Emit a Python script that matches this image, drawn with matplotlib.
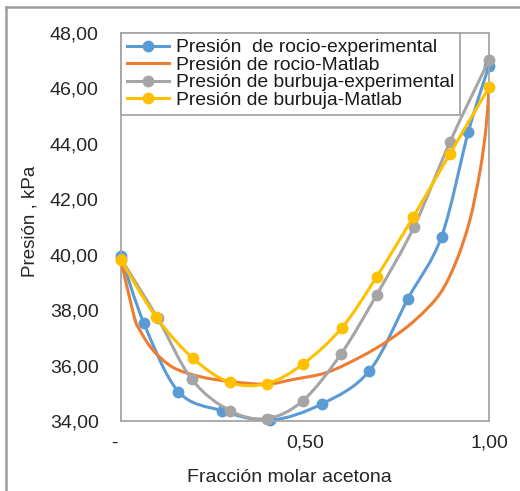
import numpy as np
import matplotlib
matplotlib.use("Agg")
import matplotlib.pyplot as plt
from matplotlib.path import Path
from matplotlib.patches import PathPatch
from matplotlib.lines import Line2D

plt.rcParams['font.family'] = ['Liberation Sans', 'DejaVu Sans']

# Presión de rocío experimental (composición del vapor)
rocio_exp_x = [0.0, 0.0625, 0.156, 0.274, 0.405, 0.545, 0.675, 0.780, 0.871, 0.944, 1.0]
rocio_exp_p = [39.95, 37.52, 35.06, 34.37, 34.03, 34.61, 35.81, 38.42, 40.65, 44.44, 46.82]

# Presión de rocío calculada (Matlab)
rocio_mat_x = [0.0, 0.035, 0.052, 0.088, 0.142, 0.215, 0.300, 0.396, 0.468, 0.559,
               0.649, 0.726, 0.800, 0.867, 0.912, 0.948, 0.976, 0.992, 1.0]
rocio_mat_p = [39.80, 37.80, 37.26, 36.54, 35.93, 35.60, 35.42, 35.33, 35.50, 35.75,
               36.30, 36.90, 37.65, 38.60, 39.80, 41.25, 43.05, 44.60, 46.00]

# Presión de burbuja experimental
burbuja_exp_x = [0.0, 0.10, 0.192, 0.296, 0.396, 0.494, 0.598, 0.695, 0.796, 0.894, 1.0]
burbuja_exp_p = [39.85, 37.70, 35.51, 34.37, 34.09, 34.73, 36.42, 38.56, 41.00, 44.07, 47.02]

# Presión de burbuja calculada (Matlab)
burbuja_mat_x = [0.0, 0.095, 0.195, 0.296, 0.396, 0.494, 0.600, 0.695, 0.794, 0.894, 1.0]
burbuja_mat_p = [39.80, 37.76, 36.27, 35.39, 35.35, 36.05, 37.36, 39.21, 41.36, 43.65, 46.04]

labels = ["Presión  de rocio-experimental", "Presión de rocio-Matlab",
          "Presión de burbuja-experimental", "Presión de burbuja-Matlab"]
colors = ["#5B9BD5", "#ED7D31", "#A5A5A5", "#FFC000"]

y_ticks = [34, 36, 38, 40, 42, 44, 46, 48]
x_ticks = [0.0, 0.5, 1.0]
x_ticklabels = ["-  ", "0,50", "1,00"]


def smooth_path(xs, ys):
    """Smoothed (Catmull-Rom style) Bezier path through the given points."""
    pts = np.column_stack([xs, ys]).astype(float)
    verts = [pts[0]]
    codes = [Path.MOVETO]
    n = len(pts)
    for i in range(n - 1):
        p0 = pts[i - 1] if i > 0 else pts[i]
        p1 = pts[i]
        p2 = pts[i + 1]
        p3 = pts[i + 2] if i + 2 < n else pts[i + 1]
        verts += [p1 + (p2 - p0) / 6.0, p2 - (p3 - p1) / 6.0, p2]
        codes += [Path.CURVE4] * 3
    return Path(verts, codes)


fig = plt.figure(figsize=(5.2, 4.91), dpi=100)

# background layer holding the outer chart frame (top and left edges visible)
bg = fig.add_axes([0, 0, 1, 1], zorder=-1)
bg.set_xlim(0, 1)
bg.set_ylim(0, 1)
bg.axis('off')
frame_x = 6 / 520
frame_y = 1 - 7 / 491
bg.plot([frame_x, 1.0], [frame_y, frame_y], color='#9C9C9C', lw=1.8, clip_on=False)
bg.plot([frame_x, frame_x], [0.0, frame_y], color='#9C9C9C', lw=1.8, clip_on=False)

ax = fig.add_axes([121 / 520, 1 - 421 / 491, 368 / 520, 388 / 491])

series = [
    (rocio_exp_x, rocio_exp_p, True),
    (rocio_mat_x, rocio_mat_p, False),
    (burbuja_exp_x, burbuja_exp_p, True),
    (burbuja_mat_x, burbuja_mat_p, True),
]

lw = 2.2
ms = 7.5
handles = []
for k, ((xs, ys, has_marker), col, lab) in enumerate(zip(series, colors, labels)):
    z = 2 + k
    ax.add_patch(PathPatch(smooth_path(xs, ys), fill=False, edgecolor=col,
                           lw=lw, zorder=z, capstyle='round', joinstyle='round'))
    if has_marker:
        ax.plot(xs, ys, linestyle='none', marker='o', ms=ms, color=col,
                markeredgecolor=col, zorder=z + 0.5, clip_on=False)
        handles.append(Line2D([], [], color=col, lw=lw, marker='o', ms=ms))
    else:
        handles.append(Line2D([], [], color=col, lw=lw))

ax.set_xlim(0, 1)
ax.set_ylim(34, 48)
ax.set_yticks(y_ticks)
ax.set_yticklabels([f"{v:.2f}".replace('.', ',') for v in y_ticks])
ax.set_xticks(x_ticks)
ax.set_xticklabels(x_ticklabels)
ax.tick_params(axis='both', length=0, labelsize=14, colors='#262626')
ax.tick_params(axis='y', pad=16)
ax.tick_params(axis='x', pad=10)

for sp in ax.spines.values():
    sp.set_color('#A6A6A6')
    sp.set_linewidth(1.3)

leg = ax.legend(handles, labels, loc='upper left', bbox_to_anchor=(0, 1),
                borderaxespad=0, fontsize=13.9, labelspacing=0.0,
                handlelength=2.2, handletextpad=0.35, borderpad=0.3,
                fancybox=False, framealpha=1, numpoints=1)
leg.get_frame().set_edgecolor('#A6A6A6')
leg.get_frame().set_linewidth(1.3)
for t in leg.get_texts():
    t.set_color('#1a1a1a')

fig.text(30 / 520, 1 - 221 / 491, "Presión , kPa", rotation=90,
         ha='center', va='center', fontsize=13.5, color='#262626')
fig.text(289 / 520, 1 - 478 / 491, "Fracción molar acetona",
         ha='center', va='center', fontsize=14, color='#262626')

fig.savefig("out.png", dpi=100)
